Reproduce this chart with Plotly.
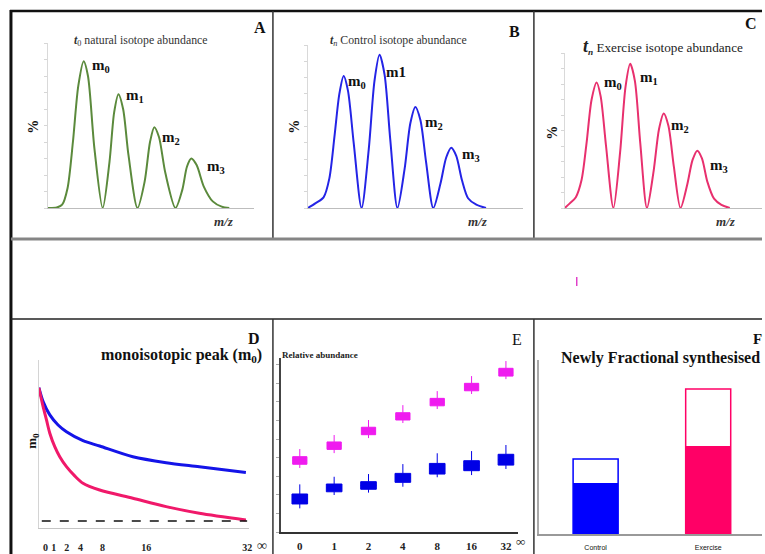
import plotly.graph_objects as go

W, H = 765, 554

# ---------------- data ----------------
# Panel A: t0 natural isotope abundance (x: isotopologue index, y: %)
A_x = [0, 0.25, 0.4, 0.55, 0.7, 0.85, 1.0, 1.12, 1.3, 1.53, 1.72, 1.85, 1.97, 2.1, 2.25, 2.5,
       2.7, 2.85, 2.97, 3.1, 3.28, 3.56, 3.75, 3.88, 4.0, 4.15, 4.35, 4.6, 4.85, 5.06]
A_y = [0, 0.3, 2, 12, 40, 74, 89, 80, 36, 0, 28, 58, 69, 60, 32, 0,
       16, 40, 49, 43, 21, 0, 11, 25, 30, 26, 13, 4, 0.8, 0]
# Panel B: tn control
B_x = [0, 0.22, 0.44, 0.6, 0.75, 0.88, 1.0, 1.12, 1.28, 1.5, 1.7, 1.86, 2.0, 2.14, 2.3, 2.5,
       2.7, 2.86, 3.0, 3.14, 3.3, 3.5, 3.7, 3.86, 4.0, 4.14, 4.3, 4.47, 4.7, 4.97]
B_y = [0, 3, 6.5, 18, 45, 70, 81, 72, 40, 0, 36, 78, 94, 82, 42, 0,
       24, 52, 62, 54, 28, 0, 15, 31, 37, 32, 17, 6, 2, 0]
# Panel C: tn exercise
C_x = [0.05, 0.2, 0.38, 0.55, 0.7, 0.85, 1.0, 1.12, 1.28, 1.5, 1.7, 1.86, 2.0, 2.14, 2.3, 2.5,
       2.7, 2.86, 3.0, 3.14, 3.3, 3.5, 3.7, 3.86, 4.0, 4.14, 4.3, 4.5, 4.72, 4.97]
C_y = [0, 3, 7, 18, 42, 70, 81, 72, 40, 0, 36, 78, 93, 82, 42, 0,
       24, 51, 61, 53, 27, 0, 15, 31, 37, 32, 17, 6, 2, 0]

# Panel D: monoisotopic peak decay
D_blue_t = [-1.27, -0.59, 0.48, 1.80, 3.14, 5.78, 8.44, 13.74, 19.06, 24.36, 31.8]
D_blue_y = [0.835, 0.752, 0.673, 0.613, 0.573, 0.520, 0.488, 0.424, 0.389, 0.365, 0.331]
D_pink_t = [-1.27, -0.59, -0.05, 0.48, 1.27, 2.07, 3.14, 4.46, 5.78, 8.44, 13.74, 19.06, 24.36, 31.8]
D_pink_y = [0.835, 0.722, 0.643, 0.564, 0.484, 0.424, 0.365, 0.310, 0.266, 0.226, 0.177, 0.127, 0.088, 0.048]
D_base_t = [-0.8, 32.0]
D_base_y = [0.042, 0.042]
D_tick_pos = [-0.2, 1.1, 3.2, 5.4, 8.9, 15.9, 32.0]
D_tick_text = ["0", "1", "2", "4", "8", "16", "32"]

# Panel E: relative abundance boxes
E_labels = ["0", "1", "2", "4", "8", "16", "32"]
E_pos = [0, 1, 2, 3, 4, 5, 6]
E_ex_q3 = [4.46, 5.33, 6.20, 7.06, 7.91, 8.80, 9.69]
E_ex_q1 = [4.01, 4.89, 5.76, 6.63, 7.47, 8.36, 9.23]
E_ex_hi = [4.91, 5.74, 6.63, 7.51, 8.34, 9.23, 10.12]
E_ex_lo = [3.79, 4.67, 5.56, 6.45, 7.28, 8.17, 9.05]
E_ct_q3 = [2.25, 2.84, 2.98, 3.47, 4.06, 4.22, 4.60]
E_ct_q1 = [1.66, 2.38, 2.53, 2.94, 3.43, 3.63, 3.96]
E_ct_hi = [2.82, 3.27, 3.43, 4.02, 4.66, 4.79, 5.15]
E_ct_lo = [1.40, 2.19, 2.33, 2.68, 3.24, 3.37, 3.73]

# Panel F: newly fractional synthesised
F_cats = ["Control", "Exercise"]
F_pos = [0, 1]
F_new = [29.3, 50.6]
F_total = [43.1, 83.3]

# ---------------- styles ----------------
GREEN = "#5b8a3c"
BLUE_B = "#2424e6"
PINK_C = "#e8306e"
BLUE = "#1414e8"
PINK = "#f0196a"
MAG = "#ef1bef"
BLUE_E = "#0000e6"
BLUE_F = "#0000ff"
PINK_F = "#ff0066"
SERIF = "Liberation Serif"


def px(x):
    return x / W


def py(y):
    return 1 - y / H


def dom_x(a, b):
    return [px(a), px(b)]


def dom_y(top, bottom):
    return [py(bottom), py(top)]


fig = go.Figure()

spline = dict(shape="spline", smoothing=0.8)
fig.add_trace(go.Scatter(x=A_x, y=A_y, mode="lines", line=dict(color=GREEN, width=2, **spline),
                         xaxis="x", yaxis="y", hoverinfo="skip"))
fig.add_trace(go.Scatter(x=B_x, y=B_y, mode="lines", line=dict(color=BLUE_B, width=2, **spline),
                         xaxis="x2", yaxis="y2", hoverinfo="skip"))
fig.add_trace(go.Scatter(x=C_x, y=C_y, mode="lines", line=dict(color=PINK_C, width=2, **spline),
                         xaxis="x3", yaxis="y3", hoverinfo="skip"))

fig.add_trace(go.Scatter(x=D_blue_t, y=D_blue_y, mode="lines", line=dict(color=BLUE, width=3, **spline),
                         xaxis="x4", yaxis="y4"))
fig.add_trace(go.Scatter(x=D_pink_t, y=D_pink_y, mode="lines", line=dict(color=PINK, width=3, **spline),
                         xaxis="x4", yaxis="y4"))
fig.add_trace(go.Scatter(x=D_base_t, y=D_base_y, mode="lines", line=dict(color="#111", width=1.6, dash="dash"),
                         xaxis="x4", yaxis="y4"))

E_ex_med = [(a + b) / 2 for a, b in zip(E_ex_q1, E_ex_q3)]
E_ct_med = [(a + b) / 2 for a, b in zip(E_ct_q1, E_ct_q3)]
fig.add_trace(go.Box(x=E_pos, q1=E_ex_q1, median=E_ex_med, q3=E_ex_q3, lowerfence=E_ex_lo,
                     upperfence=E_ex_hi, width=0.415, fillcolor=MAG, line=dict(color=MAG, width=1),
                     whiskerwidth=0, boxpoints=False, xaxis="x5", yaxis="y5"))
fig.add_trace(go.Box(x=E_pos, q1=E_ct_q1, median=E_ct_med, q3=E_ct_q3, lowerfence=E_ct_lo,
                     upperfence=E_ct_hi, width=0.455, fillcolor=BLUE_E, line=dict(color=BLUE_E, width=1),
                     whiskerwidth=0, boxpoints=False, xaxis="x5", yaxis="y5"))

fig.add_trace(go.Bar(x=F_pos, y=F_total, width=0.4,
                     marker=dict(color="white", line=dict(color=[BLUE_F, PINK_F], width=1.5)),
                     xaxis="x6", yaxis="y6"))
fig.add_trace(go.Bar(x=F_pos, y=F_new, width=0.4,
                     marker=dict(color=[BLUE_F, PINK_F], line=dict(width=0)),
                     xaxis="x6", yaxis="y6"))

# ---------------- axes ----------------
def top_axes(xd, yd, xr):
    xa = dict(domain=xd, range=xr, showline=True, linecolor="#bdbdbd", linewidth=1,
              showgrid=False, zeroline=False, ticks="", showticklabels=False, fixedrange=True)
    ya = dict(domain=yd, range=[0, 100], showline=True, linecolor="#d9d9d9", linewidth=1,
              showgrid=False, zeroline=False, ticks="outside", ticklen=3, tickcolor="#d6d6d6",
              dtick=10, tick0=0, showticklabels=False, fixedrange=True)
    return xa, ya


xa1, ya1 = top_axes(dom_x(48, 255), dom_y(43, 208), [0, 5.75])
xa2, ya2 = top_axes(dom_x(309, 525), dom_y(45, 208), [0, 6.0])
xa3, ya3 = top_axes(dom_x(567, 765), dom_y(53, 208), [0.05, 5.93])
ya1["anchor"] = "x"; xa1["anchor"] = "y"
ya2["anchor"] = "x2"; xa2["anchor"] = "y2"
ya3["anchor"] = "x3"; xa3["anchor"] = "y3"

xa4 = dict(domain=dom_x(39, 250), range=[-1.27, 32.3], anchor="y4", showline=True, linecolor="#c4c4c4",
           linewidth=1, showgrid=False, zeroline=False, ticks="", tickvals=D_tick_pos, ticktext=D_tick_text,
           tickangle=0, tickfont=dict(family=SERIF, size=10, color="#222", weight="bold"),
           ticklabelstandoff=10, fixedrange=True)
ya4 = dict(domain=dom_y(360, 528), range=[0, 1], anchor="x4", showline=True, linecolor="#d4d4d4",
           linewidth=1, showgrid=False, zeroline=False, ticks="", showticklabels=False, fixedrange=True)

xa5 = dict(domain=dom_x(282, 520), range=[-0.55, 6.35], anchor="y5", showline=True, linecolor="#333",
           linewidth=1.5, showgrid=False, zeroline=False, ticks="", tickvals=E_pos, ticktext=E_labels,
           tickangle=0, tickfont=dict(family=SERIF, size=11, color="#222", weight="bold"),
           ticklabelstandoff=3, fixedrange=True)
ya5 = dict(domain=dom_y(358, 532), range=[0, 10.3], anchor="x5", showline=True, linecolor="#444",
           linewidth=1.5, showgrid=False, zeroline=False, ticks="outside", ticklen=3, tickcolor="#aaa",
           dtick=1.1, tick0=0, showticklabels=False, fixedrange=True)

xa6 = dict(domain=dom_x(541, 765), range=[-0.504, 1.478], anchor="y6", showline=True, linecolor="#999",
           linewidth=1.5, showgrid=False, zeroline=False, ticks="", tickvals=F_pos, ticktext=F_cats,
           tickangle=0, tickfont=dict(family="Liberation Sans Narrow, Liberation Sans", size=7, color="#111"),
           ticklabelstandoff=6, fixedrange=True)
ya6 = dict(domain=dom_y(360, 534), range=[0, 100], anchor="x6", showline=True, linecolor="#aaa",
           linewidth=1.5, showgrid=False, zeroline=False, ticks="", showticklabels=False, fixedrange=True)

# ---------------- frame shapes ----------------
shapes = []


def hline(y, x0, x1, color, w):
    shapes.append(dict(type="line", xref="paper", yref="paper", x0=px(x0), x1=px(x1), y0=py(y), y1=py(y),
                       line=dict(color=color, width=w)))


def vline(x, y0, y1, color, w):
    shapes.append(dict(type="line", xref="paper", yref="paper", x0=px(x), x1=px(x), y0=py(y0), y1=py(y1),
                       line=dict(color=color, width=w)))


hline(11, 10, 765, "#111", 2.5)
vline(11, 10, 554, "#111", 3)
vline(274, 11, 239, "#333", 1.5)
vline(536, 11, 239, "#333", 1.5)
hline(239, 11, 765, "#858585", 3)
hline(319, 11, 765, "#222", 1.5)
vline(274, 319, 554, "#333", 1.5)
vline(536, 319, 554, "#333", 1.5)
vline(579, 277, 286, "#e040c8", 1.5)

# ---------------- annotations ----------------
ann = []


def txt(x, y, s, size=12, bold=False, italic=False, angle=0, xanchor="center", family=SERIF, color="#111"):
    ann.append(dict(x=px(x), y=py(y), xref="paper", yref="paper", text=s, showarrow=False,
                    xanchor=xanchor, yanchor="middle", textangle=angle,
                    font=dict(family=family, size=size, color=color,
                              weight="bold" if bold else "normal",
                              style="italic" if italic else "normal")))


# panel letters
txt(261, 27, "A", 16, bold=True)
txt(517, 31, "B", 16, bold=True)
txt(754, 23, "C", 16, bold=True)
txt(255, 338, "D", 16, bold=True)
txt(519, 339, "E", 16, family="Liberation Sans Narrow, Liberation Serif")
txt(760, 339, "F", 15, bold=True)

# top titles
txt(142, 40, "<i><b>t</b></i><sub>0</sub> natural isotope abundance", 11.8, color="#333")
txt(400, 41, "<i><b>t</b><sub>n</sub></i> Control isotope abundance", 11.8, color="#333")
txt(666, 47, "<span style='font-size:18px'><b><i>t</i></b></span><sub><b><i>n</i></b></sub> Exercise isotope abundance",
    13.2, color="#222")

# % labels and m/z
txt(33, 127, "<b>%</b>", 14, angle=-90)
txt(295, 127, "<b>%</b>", 14, angle=-90)
txt(555, 133, "<b>%</b>", 14, angle=-90)
txt(225, 221, "<b><i>m/z</i></b>", 13, color="#333")
txt(480, 221, "<b><i>m/z</i></b>", 13, color="#333")
txt(729, 222, "<b><i>m/z</i></b>", 13, color="#333")

# peak labels
for (x, y, s) in [(101, 66, "m<sub>0</sub>"), (136, 96, "m<sub>1</sub>"), (172, 138, "m<sub>2</sub>"),
                  (217, 167, "m<sub>3</sub>"),
                  (358, 82, "m<sub>0</sub>"), (398, 72, "m1"), (436, 123, "m<sub>2</sub>"),
                  (473, 155, "m<sub>3</sub>"),
                  (615, 83, "m<sub>0</sub>"), (652, 78, "m<sub>1</sub>"), (683, 126, "m<sub>2</sub>"),
                  (722, 166, "m<sub>3</sub>")]:
    txt(x, y, "<b>" + s + "</b>", 15)

# D
txt(265, 355, "<b>monoisotopic peak (m<sub>0</sub>)</b>", 16, xanchor="right")
txt(32, 441, "<b>m<sub>0</sub></b>", 13, angle=-90)
txt(263, 545, "<b>∞</b>", 14, color="#222")

# E
txt(281, 355, "<b>Relative abundance</b>", 9, xanchor="left", color="#222")
txt(523, 541, "<b>∞</b>", 13, color="#222")

# F
txt(663, 358, "<b>Newly Fractional synthesised</b>", 16)

fig.update_layout(
    width=W, height=H, margin=dict(l=0, r=0, t=0, b=0),
    paper_bgcolor="white", plot_bgcolor="rgba(0,0,0,0)",
    showlegend=False, barmode="overlay", boxmode="overlay",
    xaxis=xa1, yaxis=ya1, xaxis2=xa2, yaxis2=ya2, xaxis3=xa3, yaxis3=ya3,
    xaxis4=xa4, yaxis4=ya4, xaxis5=xa5, yaxis5=ya5, xaxis6=xa6, yaxis6=ya6,
    shapes=shapes, annotations=ann,
)

fig.write_html("out.html")
